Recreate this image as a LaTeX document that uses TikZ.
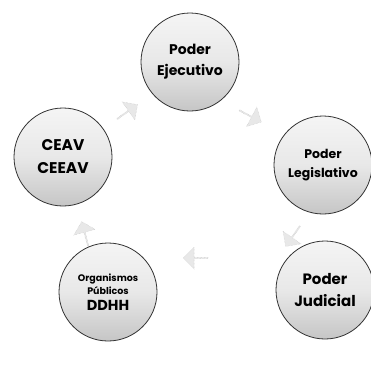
\documentclass[tikz,border=0pt]{standalone}
\usepackage{fontspec}
\setmainfont{Poppins}
\usetikzlibrary{shapes.arrows}

\begin{document}
\begin{tikzpicture}[x=1pt,y=-1pt,font=\bfseries,
    disc/.style={circle,draw=black!80,line width=0.8pt,minimum size=98pt,inner sep=0pt,
      align=center,top color=gray!8,bottom color=gray!45,middle color=gray!18},
    flow/.style={single arrow,draw=gray!50,densely dotted,fill=gray!18,
      minimum height=25pt,minimum width=22pt,single arrow head extend=3pt,inner sep=0pt}]
  \useasboundingbox (0,0) rectangle (371,367);
  % the five circles, clockwise from the top
  \node[disc,font=\bfseries\fontsize{14}{21}\selectfont] (ejec) at (190,62) {Poder\\Ejecutivo};
  \node[disc,font=\bfseries\fontsize{12.5}{19}\selectfont] (legis) at (323,165) {Poder\\Legislativo};
  \node[disc,font=\bfseries\fontsize{15}{22}\selectfont] (judic) at (325,290) {Poder\\Judicial};
  \node[disc,font=\bfseries\fontsize{9.5}{13}\selectfont] (organ) at (108,292)
    {Organismos\\P\'ublicos\\[3pt]\fontsize{14.5}{17}\selectfont DDHH};
  \node[disc,font=\bfseries\fontsize{15.5}{23}\selectfont] (ceav) at (63,157) {CEAV\\CEEAV};
  % faint block arrows between the circles
  \foreach \x/\y/\a in {250/116/-28, 293/236/-125, 196/258/180, 85/234/105, 127/112/35}
    \node[flow,rotate=\a] at (\x,\y) {};
\end{tikzpicture}
\end{document}
